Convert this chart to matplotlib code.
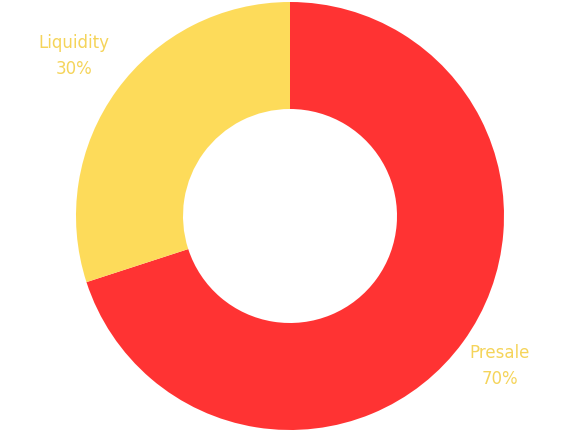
import matplotlib
matplotlib.use("Agg")
import matplotlib.pyplot as plt

# data
labels = ["Presale", "Liquidity"]
values = [70, 30]
colors = ["#FF3333", "#FDDB5A"]

fig = plt.figure(figsize=(5.77, 4.33), dpi=100)
ax = fig.add_axes([0, 0, 1, 1])
ax.set_xlim(0, 577)
ax.set_ylim(0, 433)
ax.axis("off")

ax.pie(values, colors=colors, startangle=90, counterclock=False,
       center=(290, 217), radius=214, frame=True,
       wedgeprops=dict(width=107, linewidth=0))
ax.set_xlim(0, 577)
ax.set_ylim(0, 433)
ax.axis("off")

label_pos = {"Presale": (500, 67), "Liquidity": (74, 377)}
for lab, v in zip(labels, values):
    x, y = label_pos[lab]
    ax.text(x, y, f"{lab}\n{v}%", ha="center", va="center", color="#F5D45A",
            fontsize=12, family="DejaVu Sans", linespacing=1.6)

fig.savefig("out.png", dpi=100)
